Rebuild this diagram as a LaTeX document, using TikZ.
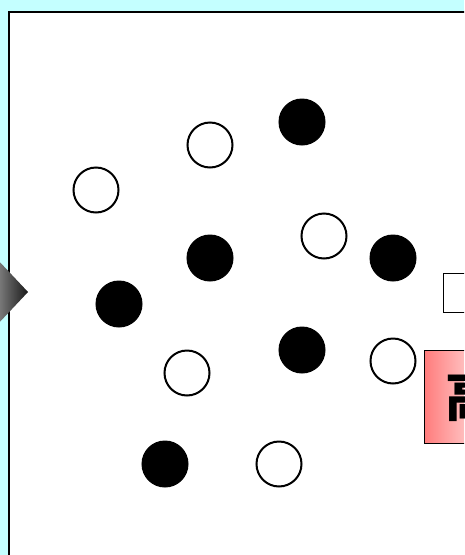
\documentclass[tikz,border=0pt]{standalone}
\usepackage{fontspec}
\newfontfamily\cjk{Noto Sans CJK SC}
\usepackage{xcolor}
\usepackage{tikz}
\usetikzlibrary{positioning}
\definecolor{PaleCyan}{HTML}{C4FFFF}
\definecolor{SoftRed}{HTML}{FF7C7C}
\tikzset{
  blackdot/.style={circle,fill=black,draw=black,line width=1pt,minimum size=46pt,inner sep=0pt},
  whitedot/.style={circle,fill=white,draw=black,line width=2pt,minimum size=45pt,inner sep=0pt},
  tagbox/.style={draw=black,line width=1pt,anchor=north west,inner sep=0pt}
}

\begin{document}
\begin{tikzpicture}[x=1pt,y=-1pt]
  \useasboundingbox (0,0) rectangle (464,555);
  \clip (0,0) rectangle (464,555);
  \fill[PaleCyan] (0,0) rectangle (464,555);
  % panel
  \draw[fill=white,line width=2pt] (9,12) rectangle (490,580);
  % incoming arrow head
  \shade[left color=black!48,right color=black!90] (-4,258) -- (28,292) -- (-4,326) -- cycle;
  % dots
  \foreach \i/\x/\y in {1/302/122,2/210/258,3/393/258,4/119/304,5/302/350,6/165/464}{
    \node[blackdot] (b\i) at (\x,\y) {};
  }
  \foreach \i/\x/\y in {1/210/145,2/96/190,3/324/236,4/187/373,5/393/361,6/279/464}{
    \node[whitedot] (w\i) at (\x,\y) {};
  }
  % boxes on the right
  \node[tagbox,fill=white,minimum width=50pt,minimum height=39pt] (small) at (443,273) {};
  \node[tagbox,left color=SoftRed,right color=white,minimum width=80pt,minimum height=93pt] (label) at (424,350) {};
  \node[anchor=west,inner sep=0pt,font=\cjk\bfseries\fontsize{54}{60}\selectfont] (labeltext) at (445,396) {高};
\end{tikzpicture}
\end{document}
